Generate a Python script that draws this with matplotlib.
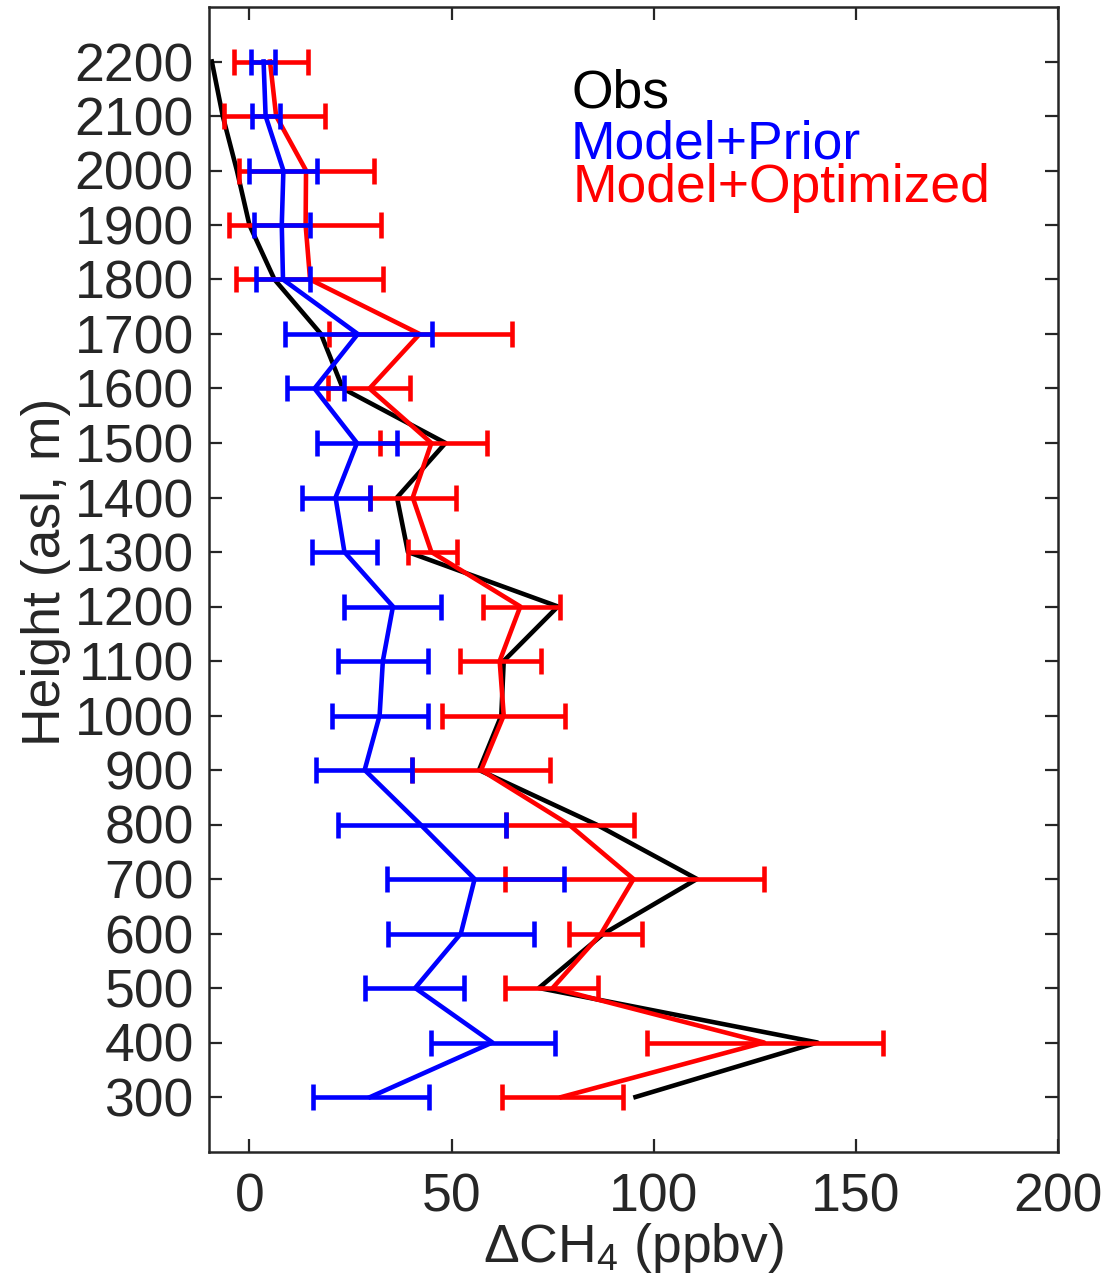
import matplotlib
matplotlib.use("Agg")
import matplotlib.pyplot as plt
import numpy as np

# ---- data ----
height = [300, 400, 500, 600, 700, 800, 900, 1000, 1100, 1200,
          1300, 1400, 1500, 1600, 1700, 1800, 1900, 2000, 2100, 2200]

obs = [95.5, 140.5, 71.6, 87.7, 110.7, 85.8, 56.8, 62.3, 62.9, 76.3,
       39.2, 36.5, 48.5, 23.1, 17.7, 6.2, 0.0, -3.1, -6.6, -9.3]

prior = [29.9, 60.1, 41.0, 52.3, 55.7, 42.3, 28.5, 32.2, 33.0, 35.5,
         23.5, 21.3, 26.6, 16.1, 26.8, 8.3, 8.0, 8.4, 4.0, 3.5]
prior_lo = [15.8, 44.9, 28.6, 34.2, 34.0, 22.0, 16.5, 20.4, 22.0, 23.5,
            15.5, 12.9, 16.8, 9.2, 8.7, 1.7, 1.1, -0.2, 0.6, 0.4]
prior_hi = [44.4, 75.5, 53.1, 70.4, 77.7, 63.5, 40.2, 44.1, 44.1, 47.4,
            31.5, 29.7, 36.5, 23.3, 45.1, 14.9, 14.9, 16.8, 7.6, 6.4]

opt = [77.2, 127.3, 75.0, 87.0, 95.0, 79.0, 57.3, 62.9, 61.9, 67.0,
       45.0, 40.4, 45.0, 29.7, 42.1, 15.0, 13.9, 14.0, 6.6, 5.1]
opt_lo = [62.4, 98.3, 63.3, 79.0, 63.1, 63.5, 40.2, 47.7, 52.0, 57.8,
          39.2, 29.7, 32.2, 19.4, 19.8, -3.3, -5.1, -2.7, -6.2, -3.8]
opt_hi = [92.5, 156.7, 86.3, 97.1, 127.3, 95.0, 74.3, 78.1, 72.2, 76.7,
          51.3, 51.2, 58.7, 39.8, 64.9, 33.0, 32.6, 30.8, 18.8, 14.6]

xticks = [0, 50, 100, 150, 200]
yticks = list(range(300, 2201, 100))
legend_labels = ["Obs", "Model+Prior", "Model+Optimized"]

# ---- style ----
plt.rcParams['font.family'] = ['Liberation Sans', 'DejaVu Sans']
plt.rcParams['mathtext.fontset'] = 'custom'
plt.rcParams['mathtext.rm'] = 'Liberation Sans'
plt.rcParams['mathtext.it'] = 'Liberation Sans:italic'
plt.rcParams['mathtext.bf'] = 'Liberation Sans:bold'

FS = 38.5
GRAY = '#262626'
LW = 3.3

fig = plt.figure(figsize=(11.08, 12.87), dpi=100)
ax = fig.add_axes([209 / 1108, 1 - 1151.5 / 1287, 849 / 1108, 1144.5 / 1287])

h = np.array(height, dtype=float)

ax.plot(obs, h, color='black', lw=LW, zorder=2)

o = np.array(opt)
ax.errorbar(o, h, xerr=[o - np.array(opt_lo), np.array(opt_hi) - o],
            color='red', lw=LW, elinewidth=LW, capsize=9.5, capthick=LW, zorder=3)

p = np.array(prior)
ax.errorbar(p, h, xerr=[p - np.array(prior_lo), np.array(prior_hi) - p],
            color='blue', lw=LW, elinewidth=LW, capsize=9.5, capthick=LW, zorder=4)

ax.set_xlim(-10, 200)
ax.set_ylim(200, 2300)
ax.set_xticks(xticks)
ax.set_yticks(yticks)

for s in ax.spines.values():
    s.set_color(GRAY)
    s.set_linewidth(1.8)

ax.tick_params(axis='both', which='both', direction='in', length=9.5, width=1.6,
               color=GRAY, labelcolor=GRAY, labelsize=FS,
               top=True, right=True)
ax.tick_params(axis='y', pad=11)
ax.tick_params(axis='x', pad=15)

# legend as colored text
leg_colors = ['black', 'blue', 'red']
leg_pos = [(0.427, 0.9118), (0.426, 0.868), (0.4287, 0.8299)]
for lab, c, (xx, yy) in zip(legend_labels, leg_colors, leg_pos):
    ax.text(xx, yy, lab, color=c, fontsize=FS, transform=ax.transAxes,
            ha='left', va='baseline')

fig.text(633.5 / 1108, 1 - 1262 / 1287, r'ΔCH$_4$ (ppbv)', color=GRAY,
         fontsize=FS, ha='center', va='baseline')
fig.text(46 / 1108, 1 - 572 / 1287, 'Height (asl, m)', color=GRAY,
         fontsize=FS, rotation=90, ha='center', va='center')

fig.savefig('out.png', dpi=100)
